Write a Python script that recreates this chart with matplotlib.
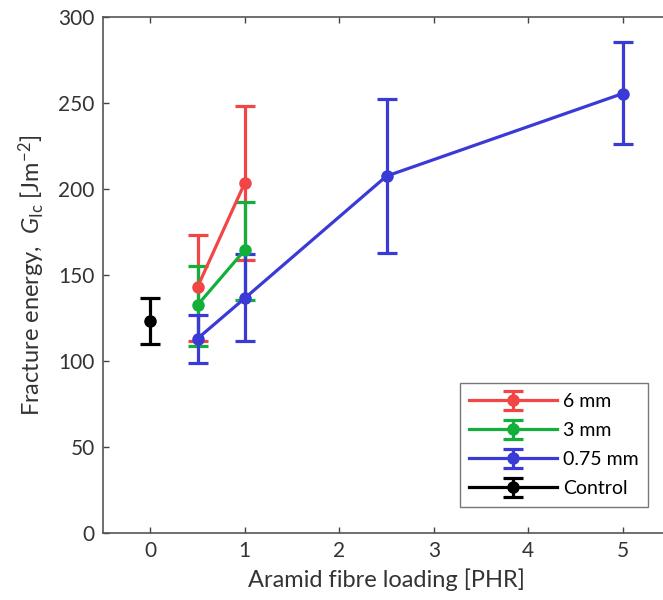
import matplotlib
matplotlib.use("Agg")
import matplotlib.pyplot as plt

plt.rcParams['font.family'] = ['Lato', 'DejaVu Sans']
plt.rcParams['mathtext.fontset'] = 'custom'
plt.rcParams['mathtext.rm'] = 'Lato'
plt.rcParams['mathtext.it'] = 'Lato:italic'

# Data
x_6mm = [0.5, 1.0]
y_6mm = [143, 203.5]
lo_6mm = [111.5, 158.5]
hi_6mm = [173.5, 248]

x_3mm = [0.5, 1.0]
y_3mm = [132.5, 164.5]
lo_3mm = [108.5, 135.5]
hi_3mm = [155.5, 192.5]

x_075 = [0.5, 1.0, 2.5, 5.0]
y_075 = [113, 136.5, 207.5, 255.5]
lo_075 = [99, 111.5, 163, 226]
hi_075 = [127, 162, 252.5, 285.5]

x_ctrl = [0.0]
y_ctrl = [123.5]
lo_ctrl = [110]
hi_ctrl = [136.5]

series = [
    ("6 mm", x_6mm, y_6mm, lo_6mm, hi_6mm, "#F24545"),
    ("3 mm", x_3mm, y_3mm, lo_3mm, hi_3mm, "#12B03A"),
    ("0.75 mm", x_075, y_075, lo_075, hi_075, "#3A3AD6"),
    ("Control", x_ctrl, y_ctrl, lo_ctrl, hi_ctrl, "#000000"),
]

fig = plt.figure(figsize=(6.63, 6.0), dpi=100)
ax = fig.add_axes([103/663, 67/600, 567/663, 516/600])

for label, xs, ys, lo, hi, c in series:
    yerr = [[y - l for y, l in zip(ys, lo)], [h - y for y, h in zip(ys, hi)]]
    ax.errorbar(xs, ys, yerr=yerr, color=c, lw=2.3, elinewidth=2.3,
                capsize=7, capthick=2.3, marker='o', markersize=8, label=label)

ax.set_xlim(-0.5, 5.5)
ax.set_ylim(0, 300)
ax.set_xticks([0, 1, 2, 3, 4, 5])
ax.set_yticks([0, 50, 100, 150, 200, 250, 300])
ax.tick_params(direction='in', length=4, width=1, top=True, right=True,
               labelsize=15, colors='#444444', labelcolor='#333333', pad=6)
for s in ax.spines.values():
    s.set_color('#555555')
    s.set_linewidth(1.2)

ax.set_xlabel('Aramid fibre loading [PHR]', fontsize=17, color='#333333', labelpad=5)
ax.set_ylabel(r'Fracture energy,  $\mathit{G}_{\mathrm{Ic}}$ [Jm$^{-2}$]', fontsize=17,
              color='#333333', labelpad=8)

leg = ax.legend(loc='lower right', bbox_to_anchor=(648/663, 93/600),
                bbox_transform=fig.transFigure,
                fontsize=14, handlelength=4.5, frameon=True, fancybox=False,
                edgecolor='#555555', borderaxespad=0.0, labelspacing=0.62,
                handletextpad=0.3, borderpad=0.5)
leg.get_frame().set_linewidth(1.0)

fig.savefig('out.png', dpi=100)
